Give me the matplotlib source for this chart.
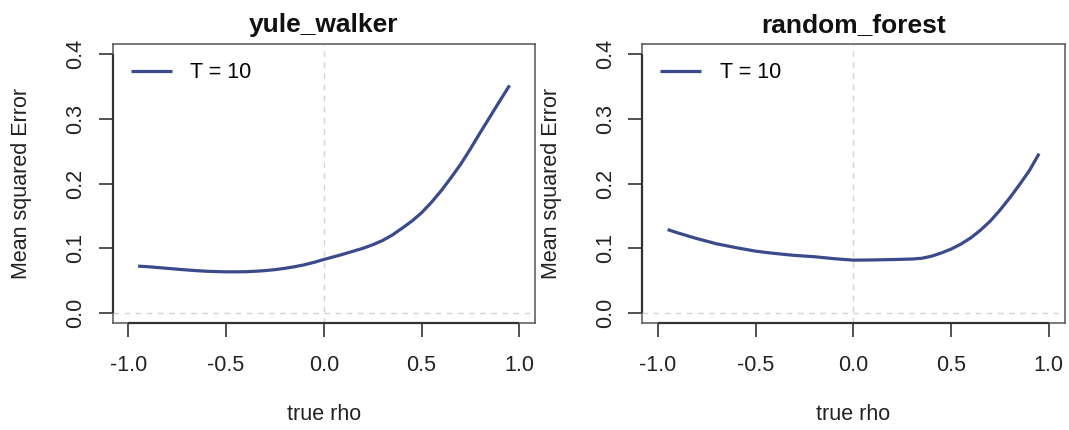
import matplotlib
matplotlib.use("Agg")
import matplotlib.pyplot as plt

plt.rcParams['font.family'] = ['Liberation Sans', 'DejaVu Sans']

rho = [-0.95, -0.9, -0.85, -0.8, -0.75, -0.7, -0.65, -0.6, -0.55, -0.5, -0.45,
       -0.4, -0.35, -0.3, -0.25, -0.2, -0.15, -0.1, -0.05, 0.0, 0.05, 0.1, 0.15,
       0.2, 0.25, 0.3, 0.35, 0.4, 0.45, 0.5, 0.55, 0.6, 0.65, 0.7, 0.75, 0.8,
       0.85, 0.9, 0.95]
mse_yule_walker = [0.0724, 0.0715, 0.0703, 0.0690, 0.0677, 0.0665, 0.0654, 0.0645,
                   0.0640, 0.0636, 0.0636, 0.0638, 0.0645, 0.0655, 0.0670, 0.0690,
                   0.0715, 0.0745, 0.0783, 0.0827, 0.0868, 0.0910, 0.0955, 0.1000,
                   0.1055, 0.1120, 0.1205, 0.1310, 0.1420, 0.1550, 0.1710, 0.1890,
                   0.2090, 0.2300, 0.2540, 0.2790, 0.3035, 0.3280, 0.3520]
mse_random_forest = [0.1290, 0.1240, 0.1195, 0.1150, 0.1110, 0.1070, 0.1040, 0.1010,
                     0.0983, 0.0956, 0.0937, 0.0920, 0.0905, 0.0890, 0.0880, 0.0870,
                     0.0855, 0.0840, 0.0828, 0.0817, 0.0818, 0.0820, 0.0823, 0.0826,
                     0.0830, 0.0834, 0.0846, 0.0878, 0.0928, 0.0988, 0.1065, 0.1160,
                     0.1280, 0.1420, 0.1590, 0.1780, 0.1985, 0.2200, 0.2465]
titles = ["yule_walker", "random_forest"]
series = [mse_yule_walker, mse_random_forest]
legend_label = "T = 10"
xticks = [-1.0, -0.5, 0.0, 0.5, 1.0]
yticks = [0.0, 0.1, 0.2, 0.3, 0.4]

W, H = 1069, 430
fig = plt.figure(figsize=(W / 100, H / 100), dpi=100)

line_color = '#3b4a8a'
grid_color = '#d3d3d3'
axis_dark = '#333333'
fs = 15.5

box_w = (535 - 112.7) / W
box_h = (323.3 - 44) / H
lefts = [112.7 / W, 642.2 / W]
bottom = 1 - 323.3 / H

for i in range(2):
    ax = fig.add_axes([lefts[i], bottom, box_w, box_h])
    ax.set_xlim(-1.08, 1.08)
    ax.set_ylim(-0.016, 0.416)
    ax.axvline(0, color=grid_color, lw=1.0, ls=(0, (4, 4)), zorder=1)
    ax.axhline(0, color=grid_color, lw=1.0, ls=(0, (4, 4)), zorder=1)
    ax.plot(rho, series[i], color=line_color, lw=2.3, zorder=3,
            solid_capstyle='butt', solid_joinstyle='round', label=legend_label)
    for s in ax.spines.values():
        s.set_color('#555555')
        s.set_linewidth(1.1)
    # R-style axis lines from first to last tick
    ax.plot([xticks[0], xticks[-1]], [-0.016, -0.016], color=axis_dark, lw=1.6,
            clip_on=False, zorder=5, solid_capstyle='butt')
    ax.plot([-1.08, -1.08], [yticks[0], yticks[-1]], color=axis_dark, lw=1.6,
            clip_on=False, zorder=5, solid_capstyle='butt')
    ax.set_xticks(xticks)
    ax.set_xticklabels([f"{t:.1f}" for t in xticks])
    ax.set_yticks(yticks)
    ax.set_yticklabels([f"{t:.1f}" for t in yticks], rotation=90, va='center')
    ax.tick_params(axis='both', direction='out', length=10, width=1.2,
                   color=axis_dark, labelsize=fs, labelcolor='#222222')
    ax.tick_params(axis='x', pad=13)
    ax.tick_params(axis='y', pad=9)
    ax.set_xlabel("true rho", fontsize=fs, color='#222222')
    ax.xaxis.set_label_coords(0.5, (323.3 - 415) / (323.3 - 44))
    ax.xaxis.label.set_va('center')
    ax.set_ylabel("Mean squared Error", fontsize=fs, color='#222222')
    ax.yaxis.set_label_coords((22 - 112.7) / (535 - 112.7), 0.5)
    ax.yaxis.label.set_va('center')
    ax.text(0.5, 1 + (44 - 25) / (323.3 - 44), titles[i], transform=ax.transAxes,
            ha='center', va='center', fontsize=19, fontweight='bold', color='#111111')
    leg = ax.legend(loc='upper left', frameon=False, fontsize=fs,
                    handlelength=1.9, handletextpad=0.85, borderpad=0.35,
                    bbox_to_anchor=(0.0, 1.0), borderaxespad=0.5)

fig.savefig("out.png", dpi=100)
